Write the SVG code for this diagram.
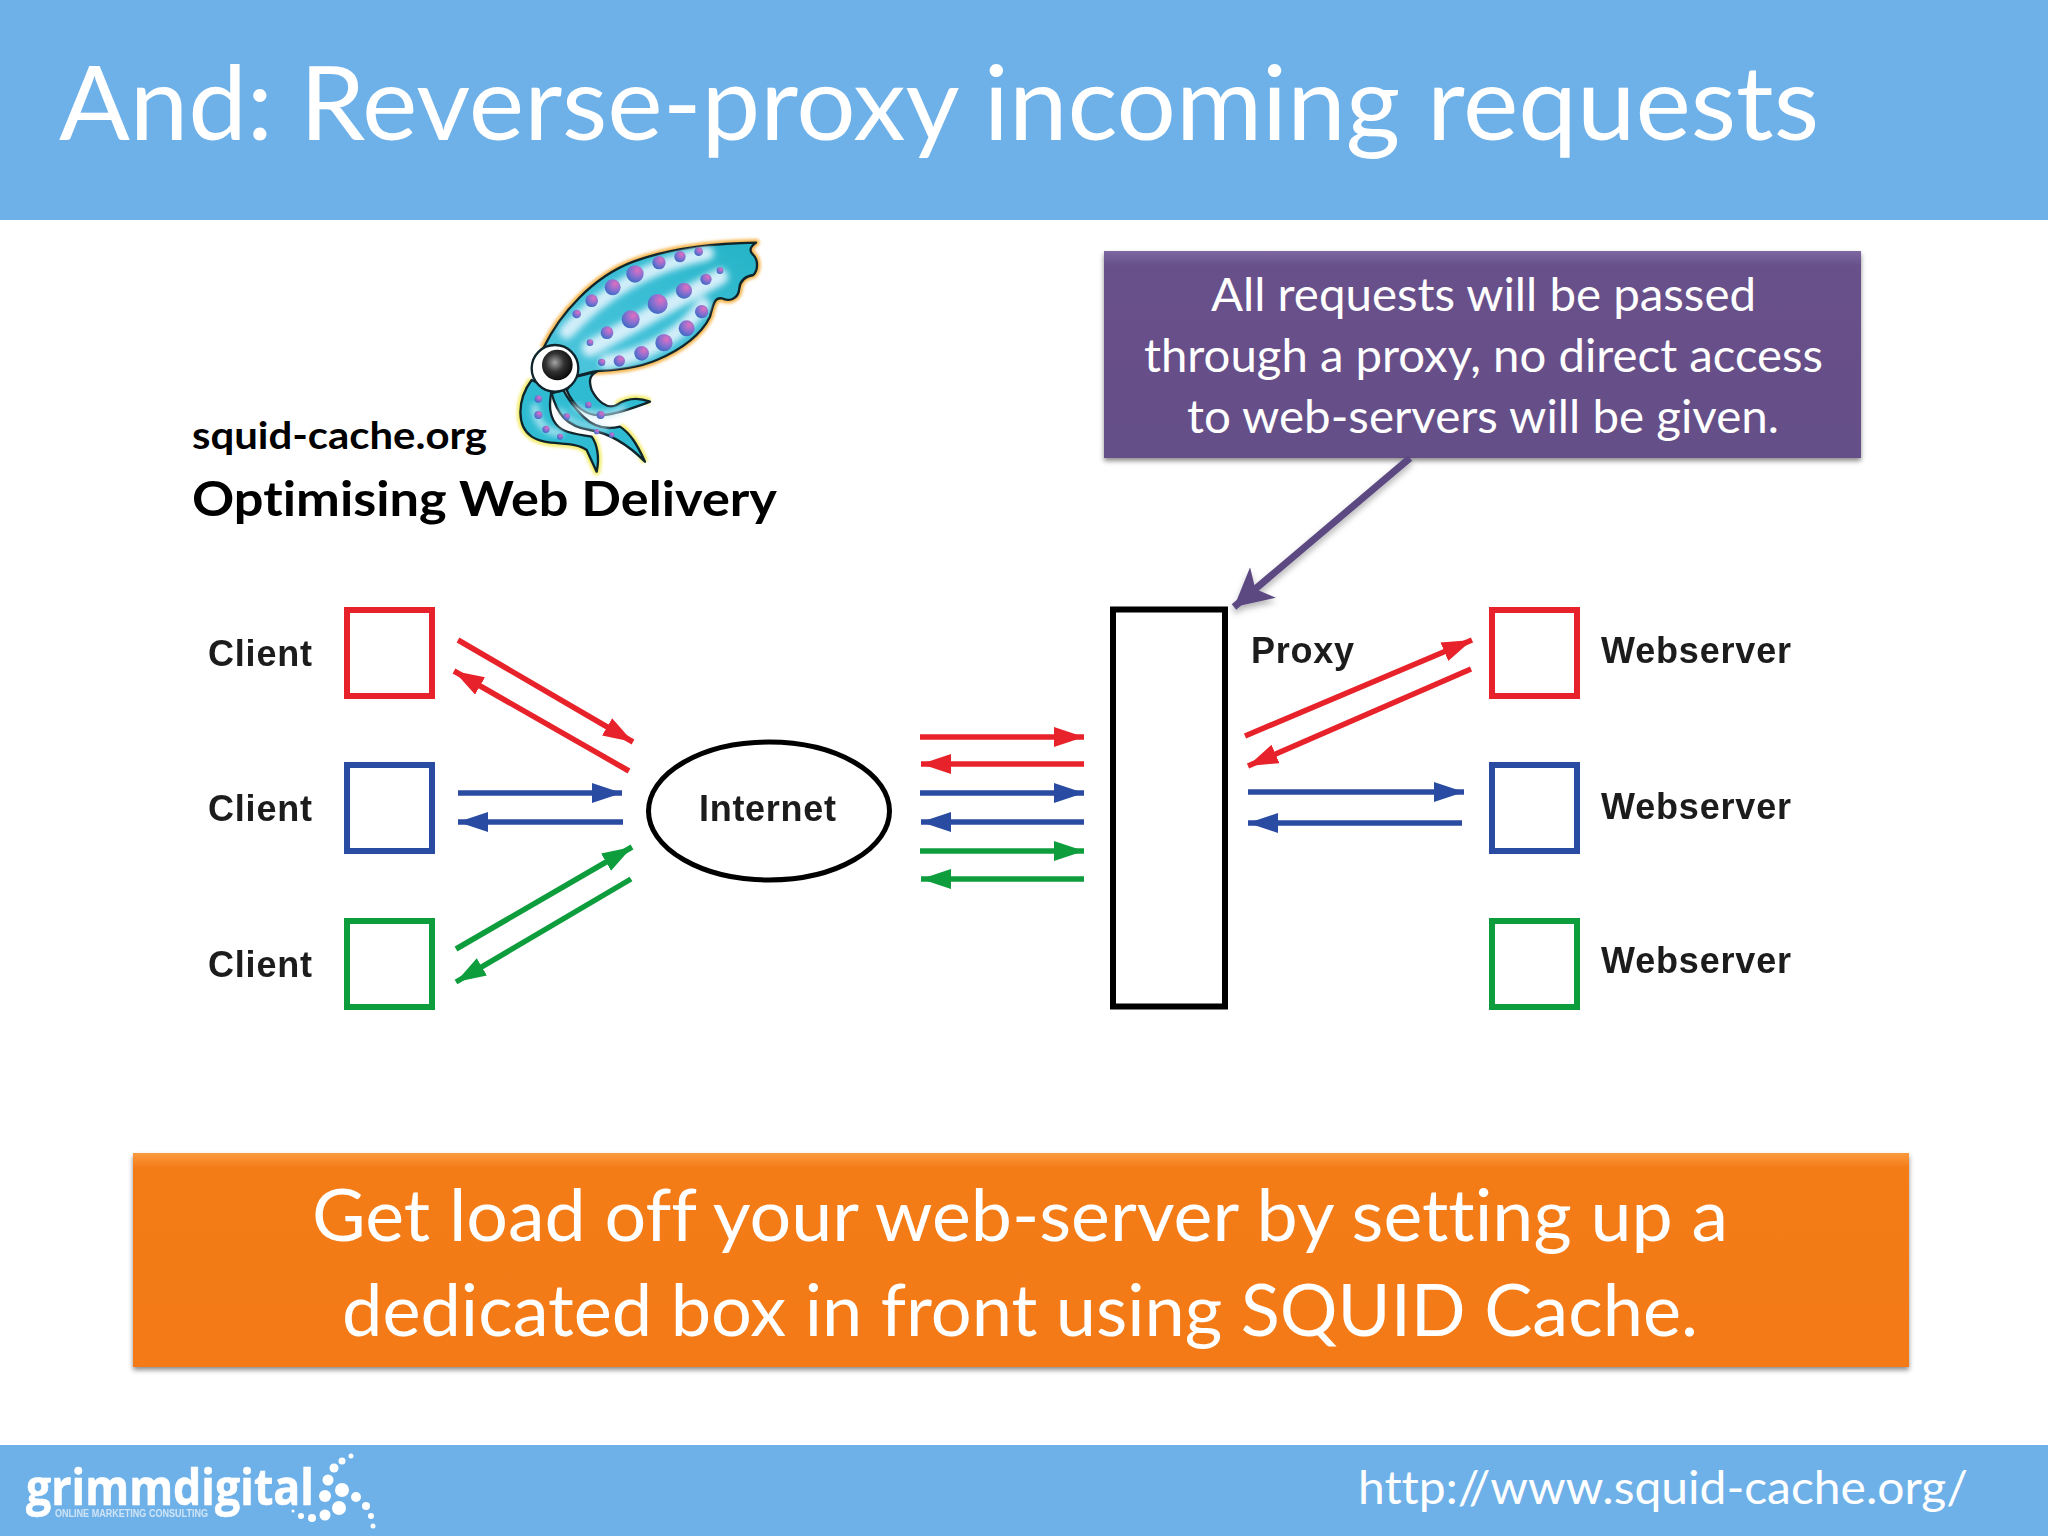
<svg xmlns="http://www.w3.org/2000/svg" width="2048" height="1536" viewBox="0 0 2048 1536">
<style>
text{font-variant-ligatures:none}
.t{font-family:"Lato","Carlito","Liberation Sans",sans-serif;fill:#fff}
.b{font-family:"Lato","Carlito","Liberation Sans",sans-serif;fill:#000;font-weight:700}
.a{font-family:"Liberation Sans",Arial,sans-serif;font-weight:700;font-size:36px;fill:#1c1c1c}
.n{fill:none;stroke-width:6}
.r{stroke:#e8242a}.u{stroke:#2b4ba2}.g{stroke:#0f9d3c}
.conn line{stroke-width:5.500;fill:none}
.s{filter:url(#soft)}
</style>
<defs>
<marker id="hr" markerUnits="userSpaceOnUse" markerWidth="34" markerHeight="22" refX="30" refY="10" orient="auto"><path d="M0,0L30,10L0,20Z" fill="#e8242a"/></marker>
<marker id="hb" markerUnits="userSpaceOnUse" markerWidth="34" markerHeight="22" refX="30" refY="10" orient="auto"><path d="M0,0L30,10L0,20Z" fill="#2b4ba2"/></marker>
<marker id="hg" markerUnits="userSpaceOnUse" markerWidth="34" markerHeight="22" refX="30" refY="10" orient="auto"><path d="M0,0L30,10L0,20Z" fill="#0f9d3c"/></marker>
<marker id="hp" markerUnits="userSpaceOnUse" markerWidth="46" markerHeight="46" refX="38" refY="20" orient="auto"><path d="M0,0L38,20L0,40L10,20Z" fill="#5c4a82"/></marker>
<filter id="sh" x="-5%" y="-10%" width="110%" height="125%"><feDropShadow dx="0" dy="3" stdDeviation="2.500" flood-color="#000" flood-opacity=".45"/></filter>
<filter id="ash" x="-20%" y="-20%" width="140%" height="140%"><feDropShadow dx="0" dy="4" stdDeviation="3" flood-color="#000" flood-opacity=".3"/></filter>
<filter id="soft" x="-5%" y="-5%" width="110%" height="110%"><feGaussianBlur stdDeviation=".7"/></filter>
<filter id="glow" x="-10%" y="-10%" width="120%" height="120%"><feGaussianBlur stdDeviation="4"/></filter>
<filter id="bl" x="-20%" y="-20%" width="140%" height="140%"><feGaussianBlur stdDeviation="9"/></filter>
<clipPath id="bodyclip"><path d="M250,385C300,280 400,170 520,125C640,80 780,70 888,68C865,85 870,95 880,105C895,120 895,150 880,165C850,170 840,185 838,205C835,240 805,245 785,235C765,232 760,250 750,290C720,350 660,390 590,420C520,450 440,450 400,455L340,470Z"/></clipPath>
<linearGradient id="pg" x1="0" y1="0" x2="0" y2="1"><stop offset="0" stop-color="#7d68a0"/><stop offset=".07" stop-color="#68518a"/><stop offset="1" stop-color="#654f88"/></linearGradient>
<linearGradient id="og" x1="0" y1="0" x2="0" y2="1"><stop offset="0" stop-color="#fb9a3f"/><stop offset=".07" stop-color="#f47b16"/><stop offset="1" stop-color="#f37a14"/></linearGradient>
<linearGradient id="body" x1="0" y1="1" x2="1" y2="0"><stop offset="0" stop-color="#4fc6dc"/><stop offset=".6" stop-color="#37bdd4"/><stop offset="1" stop-color="#25b3c6"/></linearGradient>
<radialGradient id="dot" cx=".65" cy=".3" r=".85"><stop offset="0" stop-color="#e06fc0"/><stop offset=".45" stop-color="#8a70d0"/><stop offset="1" stop-color="#2468c0"/></radialGradient>
<radialGradient id="pup" cx=".42" cy=".42" r=".6"><stop offset="0" stop-color="#a5a5a5"/><stop offset=".5" stop-color="#333"/><stop offset="1" stop-color="#0a0a0a"/></radialGradient>
</defs>

<g id="header"><rect width="2048" height="220" fill="#6eb1e9"/>
<text class="t" x="59" y="140" font-size="103" textLength="1760" lengthAdjust="spacingAndGlyphs">And: Reverse-proxy incoming requests</text></g>

<g id="squid-logo" transform="translate(460,220) scale(.3333)">
<g filter="url(#glow)" fill="none" stroke="#f5ae3a" stroke-width="22" stroke-linejoin="round" opacity=".9">
<path d="M250,385C300,280 400,170 520,125C640,80 780,70 888,68C865,85 870,95 880,105C895,120 895,150 880,165C850,170 840,185 838,205C835,240 805,245 785,235C765,232 760,250 750,290C720,350 660,390 590,420C520,450 440,450 400,455"/>
<path d="M215,480C170,540 170,620 215,650C260,680 340,660 380,690L410,755C420,710 410,670 395,650M555,725C530,670 510,640 480,620M570,545C530,530 500,535 470,555" stroke="#f2ea5a"/>
</g>
<g stroke="#10242c" stroke-width="7" stroke-linejoin="round" fill="url(#body)">
<path d="M215,480C170,540 170,620 215,650C260,680 340,660 380,690L410,755C420,710 410,670 395,650C340,640 300,640 280,600C265,570 270,540 275,510Z" fill="#2fbcd2"/>
<path d="M275,520C290,580 320,620 390,630C450,640 500,670 555,725C530,670 510,640 480,620C440,630 400,620 370,590C340,560 320,530 310,510Z" fill="#2fbcd2"/>
<path d="M320,510C340,560 380,590 430,585C480,580 530,560 570,545C530,530 500,535 470,555C440,570 410,540 395,510C385,480 390,465 410,455L350,470Z" fill="#2fbcd2"/>
<path d="M250,385C300,280 400,170 520,125C640,80 780,70 888,68C865,85 870,95 880,105C895,120 895,150 880,165C850,170 840,185 838,205C835,240 805,245 785,235C765,232 760,250 750,290C720,350 660,390 590,420C520,450 440,450 400,455L340,470Z"/>
</g>
<g fill="none" stroke="#bfe8f5" stroke-linecap="round" filter="url(#bl)">
<path d="M225,560C225,600 250,635 300,640" stroke-width="18"/>
<path d="M345,560C385,590 440,590 490,565" stroke-width="16"/>
<path d="M300,570C330,610 380,620 440,625" stroke-width="12"/>
</g>
<g clip-path="url(#bodyclip)">
<g fill="none" stroke="#d2eef9" stroke-linecap="round" filter="url(#bl)">
<path d="M320,335C430,215 570,135 740,100" stroke-width="44"/>
<path d="M390,385C510,320 640,245 780,170" stroke-width="50"/>
<path d="M440,425C560,410 670,340 730,255" stroke-width="44"/>
</g>
</g>
<g fill="url(#dot)">
<circle cx="716" cy="95" r="13"/><circle cx="660" cy="110" r="17"/><circle cx="597" cy="128" r="20"/><circle cx="525" cy="162" r="26"/><circle cx="458" cy="202" r="24"/><circle cx="395" cy="242" r="19"/><circle cx="350" cy="282" r="13"/>
<circle cx="780" cy="152" r="10"/><circle cx="738" cy="178" r="17"/><circle cx="672" cy="212" r="24"/><circle cx="593" cy="252" r="30"/><circle cx="512" cy="298" r="27"/><circle cx="441" cy="338" r="19"/><circle cx="390" cy="368" r="10"/>
<circle cx="725" cy="275" r="20"/><circle cx="680" cy="325" r="24"/><circle cx="612" cy="368" r="26"/><circle cx="545" cy="400" r="22"/><circle cx="478" cy="423" r="17"/><circle cx="425" cy="427" r="11"/>
<circle cx="235" cy="537" r="11"/><circle cx="235" cy="585" r="12"/><circle cx="258" cy="628" r="11"/><circle cx="300" cy="650" r="9"/><circle cx="385" cy="555" r="10"/><circle cx="422" cy="585" r="12"/><circle cx="320" cy="590" r="10"/><circle cx="410" cy="635" r="8"/><circle cx="455" cy="645" r="8"/>
</g>
<circle cx="285" cy="445" r="70" fill="#fff" stroke="#10242c" stroke-width="7"/>
<circle cx="292" cy="435" r="46" fill="url(#pup)"/>
</g>

<g id="logo-caption">
<text class="b" x="192" y="449" font-size="38" textLength="295" lengthAdjust="spacingAndGlyphs">squid-cache.org</text>
<text class="b" x="192" y="516" font-size="48" textLength="585" lengthAdjust="spacingAndGlyphs">Optimising Web Delivery</text>
</g>

<g id="callout">
<rect x="1104" y="251" width="757" height="207" fill="url(#pg)" filter="url(#sh)"/>
<text class="t" x="1211" y="311" font-size="46" textLength="545" lengthAdjust="spacingAndGlyphs">All requests will be passed</text>
<text class="t" x="1144" y="372" font-size="46" textLength="679" lengthAdjust="spacingAndGlyphs">through a proxy, no direct access</text>
<text class="t" x="1187" y="433" font-size="46" textLength="592" lengthAdjust="spacingAndGlyphs">to web-servers will be given.</text>
</g>

<g id="client-1" class="s"><rect class="n r" x="347" y="610" width="85" height="86"/><text class="a" x="208" y="666" textLength="104">Client</text></g>
<g id="client-2" class="s"><rect class="n u" x="347" y="765" width="85" height="86"/><text class="a" x="208" y="821" textLength="104">Client</text></g>
<g id="client-3" class="s"><rect class="n g" x="347" y="921" width="85" height="86"/><text class="a" x="208" y="977" textLength="104">Client</text></g>

<g id="internet" class="s"><ellipse cx="769" cy="811" rx="120.500" ry="69" fill="none" stroke="#000" stroke-width="5"/><text class="a" x="699" y="821" textLength="137">Internet</text></g>

<g id="proxy" class="s"><rect x="1113" y="609.500" width="112" height="397" fill="none" stroke="#000" stroke-width="6"/><text class="a" x="1251" y="663" textLength="103">Proxy</text></g>

<g id="webserver-1" class="s"><rect class="n r" x="1492" y="610" width="85" height="86"/><text class="a" x="1601" y="663" textLength="190">Webserver</text></g>
<g id="webserver-2" class="s"><rect class="n u" x="1492" y="765" width="85" height="86"/><text class="a" x="1601" y="819" textLength="190">Webserver</text></g>
<g id="webserver-3" class="s"><rect class="n g" x="1492" y="921" width="85" height="86"/><text class="a" x="1601" y="973" textLength="190">Webserver</text></g>

<g id="connectors" class="conn">
<g class="s">
<line class="r" x1="458" y1="640" x2="633" y2="742" marker-end="url(#hr)"/>
<line class="r" x1="629" y1="771" x2="454" y2="671" marker-end="url(#hr)"/>
<line class="u" x1="458" y1="793" x2="622" y2="793" marker-end="url(#hb)"/>
<line class="u" x1="623" y1="822" x2="458" y2="822" marker-end="url(#hb)"/>
<line class="g" x1="456" y1="949" x2="632" y2="847" marker-end="url(#hg)"/>
<line class="g" x1="631" y1="879" x2="456" y2="982" marker-end="url(#hg)"/>
<line class="r" x1="920" y1="737" x2="1084" y2="737" marker-end="url(#hr)"/>
<line class="r" x1="1084" y1="764" x2="921" y2="764" marker-end="url(#hr)"/>
<line class="u" x1="920" y1="793" x2="1084" y2="793" marker-end="url(#hb)"/>
<line class="u" x1="1084" y1="822" x2="921" y2="822" marker-end="url(#hb)"/>
<line class="g" x1="920" y1="851" x2="1084" y2="851" marker-end="url(#hg)"/>
<line class="g" x1="1084" y1="879" x2="921" y2="879" marker-end="url(#hg)"/>
<line class="r" x1="1245" y1="736" x2="1472" y2="640" marker-end="url(#hr)"/>
<line class="r" x1="1471" y1="669" x2="1248" y2="766" marker-end="url(#hr)"/>
<line class="u" x1="1248" y1="792" x2="1464" y2="792" marker-end="url(#hb)"/>
<line class="u" x1="1462" y1="823" x2="1248" y2="823" marker-end="url(#hb)"/>
</g>
<line x1="1410" y1="458" x2="1234" y2="607" stroke="#5c4a82" style="stroke-width:7" marker-end="url(#hp)" filter="url(#ash)"/>
</g>

<g id="banner">
<rect x="133" y="1153" width="1776" height="214" fill="url(#og)" filter="url(#sh)"/>
<text class="t" x="312" y="1241" font-size="72" textLength="1416" lengthAdjust="spacingAndGlyphs">Get load off your web-server by setting up a</text>
<text class="t" x="342" y="1336" font-size="72" textLength="1356" lengthAdjust="spacingAndGlyphs">dedicated box in front using SQUID Cache.</text>
</g>

<g id="footer"><rect y="1445" width="2048" height="91" fill="#6eb1e9"/>
<text class="t" x="1358" y="1504" font-size="47" textLength="610" lengthAdjust="spacingAndGlyphs">http://www.squid-cache.org/</text>
<g class="s">
<text x="26" y="1505" font-family="Open Sans,Liberation Sans,sans-serif" font-weight="700" font-size="51" fill="#fff" stroke="#fff" stroke-width=".6" textLength="288" lengthAdjust="spacingAndGlyphs">grimmdigital</text>
<text x="55" y="1517" font-family="Liberation Sans,sans-serif" font-weight="700" font-size="10" fill="#cfe4f6" textLength="153" lengthAdjust="spacingAndGlyphs">ONLINE MARKETING CONSULTING</text>
<g fill="#fff"><circle cx="351" cy="1456" r="2.500"/><circle cx="342" cy="1461" r="3.500"/><circle cx="334" cy="1468" r="4.500"/><circle cx="328" cy="1480" r="5.500"/><circle cx="342" cy="1490" r="7"/><circle cx="325" cy="1496" r="6"/><circle cx="356" cy="1497" r="5"/><circle cx="366" cy="1506" r="4"/><circle cx="371" cy="1516" r="3"/><circle cx="373" cy="1526" r="2.500"/><circle cx="339" cy="1508" r="7"/><circle cx="325" cy="1515" r="5.500"/><circle cx="312" cy="1518" r="4"/><circle cx="301" cy="1516" r="3"/><circle cx="293" cy="1511" r="1.500"/></g>
</g>
</g>
</svg>
